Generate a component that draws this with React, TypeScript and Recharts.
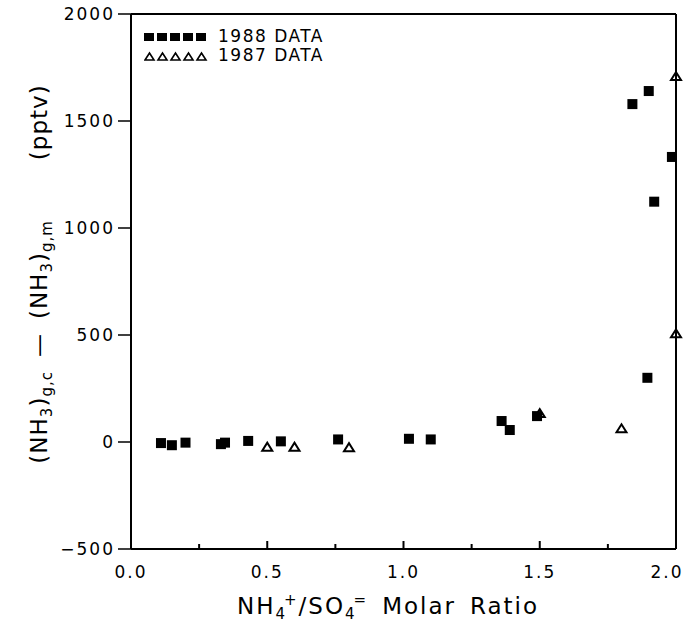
import React from 'react';
import {
    ScatterChart,
    Scatter,
    XAxis,
    YAxis,
    ReferenceLine,
} from 'recharts';

// 1988 data (filled squares)
const ratio1988 = [0.11, 0.15, 0.2, 0.33, 0.345, 0.43, 0.55, 0.76, 1.02, 1.1, 1.36, 1.39, 1.49, 1.84, 1.9, 1.92, 1.985, 1.895];
const excess1988 = [-5, -15, -3, -10, -3, 5, 3, 12, 15, 12, 98, 56, 121, 1579, 1640, 1123, 1332, 300];

// 1987 data (open triangles)
const ratio1987 = [0.5, 0.6, 0.8, 1.5, 1.8, 2.0, 2.0];
const excess1987 = [-22, -22, -24, 135, 64, 508, 1710];

const xTicks = [0, 0.25, 0.5, 0.75, 1.0, 1.25, 1.5, 1.75, 2.0];
const xLabels = ['0.0', '0.5', '1.0', '1.5', '2.0'];
const yTicks = [-500, 0, 500, 1000, 1500, 2000];

const data1988 = ratio1988.map((x, i) => ({ x, y: excess1988[i] }));
const data1987 = ratio1987.map((x, i) => ({ x, y: excess1987[i] }));

const FONT = '"DejaVu Sans", sans-serif';

const Square = (props: any) => {
    const { cx, cy } = props;
    return <rect x={cx - 5} y={cy - 5} width={10} height={10} fill="#000" />;
};

const Triangle = (props: any) => {
    const { cx, cy } = props;
    return (
        <polygon
            points={`${cx - 5},${cy + 4} ${cx + 5},${cy + 4} ${cx},${cy - 4}`}
            fill="none"
            stroke="#000"
            strokeWidth={2}
        />
    );
};

const XTick = (props: any) => {
    const { x, y, payload } = props;
    const v = payload.value as number;
    const major = Math.abs(v * 2 - Math.round(v * 2)) < 1e-6;
    const idx = Math.round(v * 2);
    const label = major ? xLabels[idx] : null;
    // last label is pulled in so it stays on the page
    const lx = idx === xLabels.length - 1 ? x - 9 : x;
    return (
        <g>
            <line x1={x} y1={y} x2={x} y2={y - (major ? 8 : 5)} stroke="#000" strokeWidth={2} />
            {label && (
                <text x={lx} y={y + 29} textAnchor="middle" fontSize={17} fontFamily={FONT} letterSpacing={2} fill="#000">
                    {label}
                </text>
            )}
        </g>
    );
};

const sub = { fontSize: 15, position: 'relative' as const, top: 5, verticalAlign: 'baseline' };
const sup = { fontSize: 15, position: 'relative' as const, top: -9, verticalAlign: 'baseline' };

export default function App() {
    return (
        <div style={{ position: 'absolute', left: 0, top: 0, width: 688, height: 624, background: '#fff' }}>
            <ScatterChart
                width={688}
                height={624}
                margin={{ top: 14, right: 12, left: 71, bottom: 35 }}
            >
                <XAxis
                    type="number"
                    dataKey="x"
                    domain={[0, 2]}
                    ticks={xTicks}
                    interval={0}
                    height={40}
                    tickLine={false}
                    tickSize={0}
                    tickMargin={0}
                    axisLine={{ stroke: '#000', strokeWidth: 2 }}
                    tick={<XTick />}
                />
                <YAxis
                    type="number"
                    dataKey="y"
                    domain={[-500, 2000]}
                    ticks={yTicks}
                    interval={0}
                    width={60}
                    tickSize={13}
                    tickMargin={3}
                    tickLine={{ stroke: '#000', strokeWidth: 1.5 }}
                    axisLine={{ stroke: '#000', strokeWidth: 2 }}
                    tickFormatter={(v: number) => String(v).replace('-', '\u2212')}
                    tick={{ fontSize: 17, fill: '#000', fontFamily: FONT, letterSpacing: 2 }}
                />
                <ReferenceLine y={2000} stroke="#000" strokeWidth={2} />
                <ReferenceLine x={2} stroke="#000" strokeWidth={2} />
                <Scatter data={data1987} shape={<Triangle />} isAnimationActive={false} />
                <Scatter data={data1988} shape={<Square />} isAnimationActive={false} />
            </ScatterChart>

            {/* legend */}
            <div style={{ position: 'absolute', left: 144, top: 27, fontFamily: FONT, fontSize: 17, letterSpacing: 1.5, lineHeight: '19px', color: '#000' }}>
                <div style={{ display: 'flex', alignItems: 'center' }}>
                    <svg width={68} height={19}>
                        {[0, 1, 2, 3, 4].map(i => (
                            <rect key={i} x={i * 13} y={6} width={10} height={8} fill="#000" />
                        ))}
                    </svg>
                    <span style={{ marginLeft: 6 }}>1988 DATA</span>
                </div>
                <div style={{ display: 'flex', alignItems: 'center' }}>
                    <svg width={68} height={19}>
                        {[0, 1, 2, 3, 4].map(i => (
                            <polygon key={i} points={`${i * 13 + 1},14 ${i * 13 + 10},14 ${i * 13 + 5.5},7`} fill="none" stroke="#000" strokeWidth={1.6} />
                        ))}
                    </svg>
                    <span style={{ marginLeft: 6 }}>1987 DATA</span>
                </div>
            </div>

            {/* y axis title */}
            <div
                style={{
                    position: 'absolute',
                    left: 40,
                    top: 274,
                    transform: 'translate(-50%, -50%) rotate(-90deg)',
                    whiteSpace: 'nowrap',
                    fontFamily: FONT,
                    fontSize: 23,
                    letterSpacing: 1,
                    lineHeight: '30px',
                    color: '#000',
                }}
            >
                <span>(NH<span style={sub}>3</span>)<span style={sub}>g,c</span></span>
                <span style={{ margin: '0 14px' }}>—</span>
                <span>(NH<span style={sub}>3</span>)<span style={sub}>g,m</span></span>
                <span style={{ marginLeft: 60 }}>(pptv)</span>
            </div>

            {/* x axis title */}
            <div
                style={{
                    position: 'absolute',
                    left: 388,
                    top: 607,
                    transform: 'translate(-50%, -50%)',
                    whiteSpace: 'nowrap',
                    fontFamily: FONT,
                    fontSize: 23,
                    letterSpacing: 2,
                    lineHeight: '26px',
                    color: '#000',
                }}
            >
                NH<span style={sub}>4</span><span style={{ ...sup, marginLeft: -3 }}>+</span>/SO<span style={sub}>4</span><span style={{ ...sup, marginLeft: -3 }}>=</span>
                <span style={{ marginLeft: 14 }}>Molar</span>
                <span style={{ marginLeft: 14 }}>Ratio</span>
            </div>
        </div>
    );
}
